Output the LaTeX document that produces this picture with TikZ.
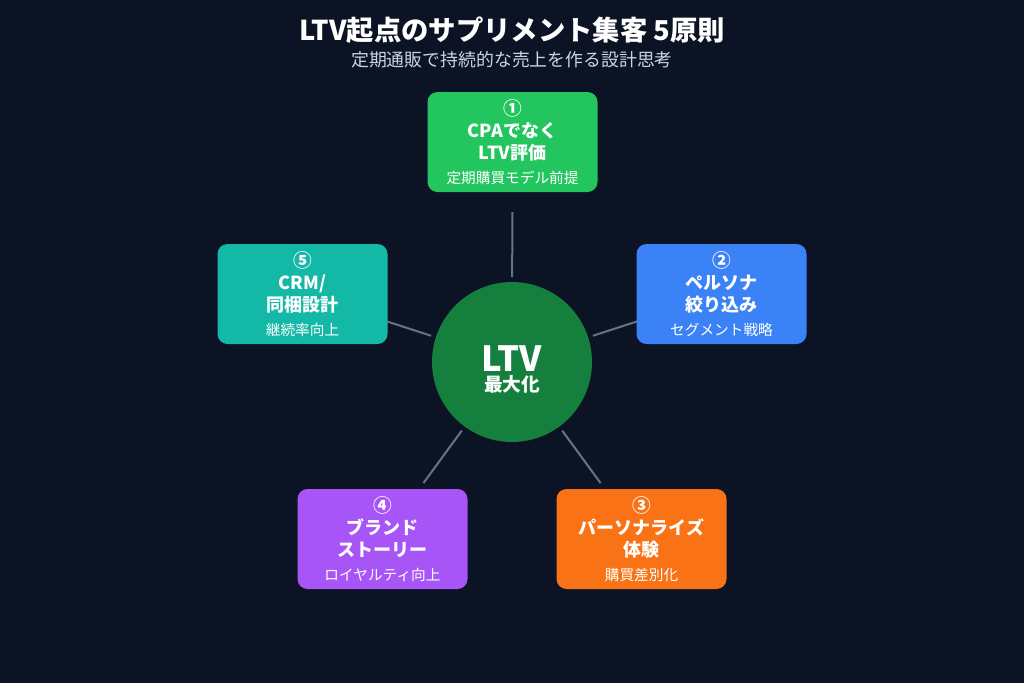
\documentclass[tikz,border=0pt]{standalone}
\usepackage{fontspec}
\setmainfont{Noto Sans CJK JP}
\usetikzlibrary{calc,backgrounds}

\definecolor{bgnavy}{HTML}{0B1324}
\definecolor{spokegray}{HTML}{64748B}
\definecolor{subgray}{HTML}{CBD5E1}
\definecolor{hubgreen}{HTML}{15803D}
\definecolor{cgreen}{HTML}{22C55E}
\definecolor{cblue}{HTML}{3B82F6}
\definecolor{corange}{HTML}{F97316}
\definecolor{cpurple}{HTML}{A855F7}
\definecolor{cteal}{HTML}{14B8A6}

\tikzset{
  card/.style={rounded corners=7.5pt, minimum width=127.5pt, minimum height=75pt,
    inner sep=0pt, text=white, align=center, font=\bfseries\fontsize{13.5}{16.5}\selectfont},
  spoke/.style={draw=spokegray, line width=1.5pt},
  hub/.style={circle, fill=hubgreen, minimum size=120pt, inner sep=0pt}
}
\newcommand{\cardnum}[1]{{\fontsize{14}{16}\selectfont #1}}
\newcommand{\cardnote}[1]{{\mdseries\fontsize{11}{13}\selectfont #1}}

\begin{document}
\begin{tikzpicture}[x=0.75pt, y=-0.75pt]
  \useasboundingbox (0,0) rectangle (1024,683);

  % title
  \node[text=white, font=\bfseries\fontsize{20.5}{23}\selectfont] (title) at (512,30) {LTV起点のサプリメント集客 5原則};
  \node[text=subgray, font=\fontsize{13.4}{16}\selectfont] (subtitle) at (512,60) {定期通販で持続的な売上を作る設計思考};

  % hub
  \node[hub] (hub) at (512,362) {};
  \node[text=white, align=center, inner sep=0pt] (hubtext) at (512,369)
    {{\bfseries\fontsize{26}{26}\selectfont LTV}\\[3pt]{\bfseries\fontsize{14}{15}\selectfont 最大化}};

  % cards
  \node[card, fill=cgreen] (b1) at (512.5,142)
    {\cardnum{①}\\CPAでなく\\LTV評価\\[2pt]\cardnote{定期購買モデル前提}};
  \node[card, fill=cblue] (b2) at (721.5,294)
    {\cardnum{②}\\ペルソナ\\絞り込み\\[2pt]\cardnote{セグメント戦略}};
  \node[card, fill=corange] (b3) at (641.5,539)
    {\cardnum{③}\\パーソナライズ\\体験\\[2pt]\cardnote{購買差別化}};
  \node[card, fill=cpurple] (b4) at (382.5,539)
    {\cardnum{④}\\ブランド\\ストーリー\\[2pt]\cardnote{ロイヤルティ向上}};
  \node[card, fill=cteal] (b5) at (302.5,294)
    {\cardnum{⑤}\\CRM/\\同梱設計\\[2pt]\cardnote{継続率向上}};

  \begin{scope}[on background layer]
    \fill[bgnavy] (0,0) rectangle (1024,683);
    \foreach \b in {b1,b2,b3,b4,b5}
      \draw[spoke] ($(hub.center)!63.75pt!(\b.center)$) -- ($(hub.center)!112.5pt!(\b.center)$);
  \end{scope}
\end{tikzpicture}
\end{document}
